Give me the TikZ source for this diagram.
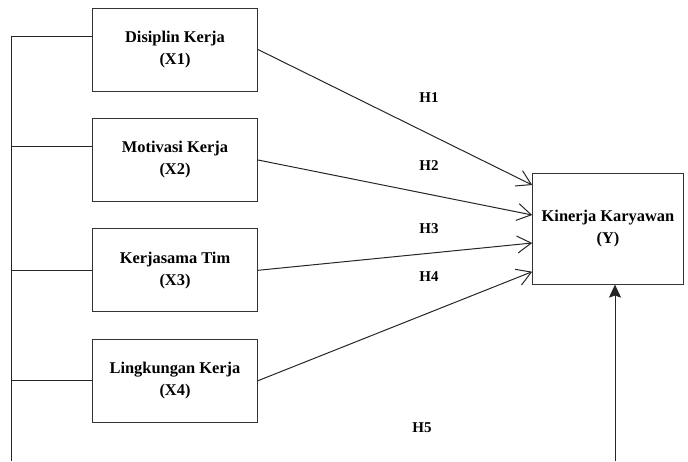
\documentclass[tikz,border=0pt]{standalone}
\usepackage{fontspec}
\setmainfont{Liberation Serif}
\usetikzlibrary{arrows.meta, positioning, calc}
\tikzset{
  var/.style={draw=black!80, line width=1pt, fill=white, minimum width=165pt,
              minimum height=83pt, align=center, inner sep=0pt,
              font=\fontsize{16.4}{22}\selectfont\bfseries},
  link/.style={draw=black!85, line width=1pt},
  arrow/.style={link, -{Straight Barb[length=14pt, width=17pt, line width=1pt]}},
  uparrow/.style={link, -{Stealth[length=13pt, width=12pt, inset=2pt]}},
  hyp/.style={font=\fontsize{15}{18}\selectfont\bfseries},
}
\begin{document}
\begin{tikzpicture}[x=1pt, y=-1pt]
\useasboundingbox (0,0) rectangle (688,461);
% independent variables
\foreach \i/\yy/\txt in {1/49.5/{Disiplin Kerja}, 2/160/{Motivasi Kerja},
                         3/270.3/{Kerjasama Tim}, 4/380.7/{Lingkungan Kerja}}{
  \node[var] (x\i) at (175,\yy) {\txt\\(X\i)};
}
% dependent variable
\node[var, minimum width=150.6pt, minimum height=110.7pt] (y) at (608,228.7)
  {Kinerja Karyawan\\(Y)};
% left bus
\coordinate (b1) at (11.7,36);
\coordinate (b2) at (11.7,146);
\coordinate (b3) at (11.7,270.3);
\coordinate (b4) at (11.7,380.7);
\coordinate (bend) at (11.7,461);
\draw[link] (b1) -- (bend);
\foreach \i in {1,...,4}{
  \draw[link] (b\i) -- (b\i -| x\i.west);
}
% hypotheses
\foreach \i/\dy in {1/43.7, 2/13.7, 3/-14.3, 4/-43}{
  \draw[arrow] (x\i.east) -- ([yshift=\dy pt]y.west);
}
\node[hyp] (h1) at (429,97.3) {H1};
\node[hyp] (h2) at (429,166) {H2};
\node[hyp] (h3) at (429,229) {H3};
\node[hyp] (h4) at (429,276.7) {H4};
\node[hyp] (h5) at (422,428) {H5};
% moderating path
\coordinate (m0) at (615,461);
\draw[uparrow] (m0) -- (m0 |- y.south);
\end{tikzpicture}
\end{document}
